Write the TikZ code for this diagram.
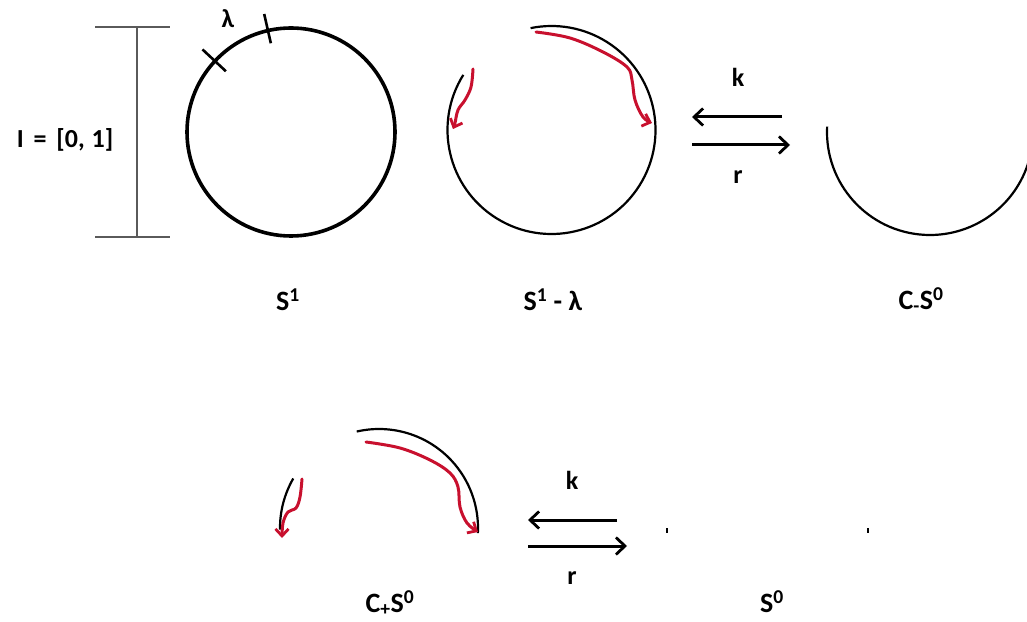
\documentclass[tikz,border=0pt]{standalone}
\usepackage{fontspec}
\setmainfont{Carlito}
\usetikzlibrary{arrows.meta,calc}
\definecolor{arrred}{RGB}{200,16,46}
\definecolor{bargrey}{RGB}{90,90,90}
\tikzset{
  lbl/.style={font=\fontsize{28}{32}\selectfont\bfseries, inner sep=0pt},
  small/.style={font=\fontsize{26}{30}\selectfont\bfseries, inner sep=0pt},
  thickcirc/.style={line width=3.6pt, black},
  thincirc/.style={line width=2.2pt, black},
  redarr/.style={line width=3pt, arrred, line cap=round, line join=round,
    -{Straight Barb[length=7pt,width=13pt,line width=2.8pt]}},
  maparr/.style={line width=3pt, black,
    -{Straight Barb[length=9pt,width=17pt,line width=2.8pt]}},
  bar/.style={line width=1.3pt, bargrey},
}
\begin{document}
\begin{tikzpicture}[x=1pt,y=1pt]
\useasboundingbox (0,0) rectangle (1027,621);
\clip (0,0) rectangle (1027,621);

% ---------- interval I ----------
\coordinate (Itop) at (137,594);
\coordinate (Ibot) at (137,384);
\draw[bar] (Itop) -- (Ibot);
\draw[bar] (95,594) -- (170,594);
\draw[bar] (95,384) -- (170,384);
\node[small] (Ilabel) at (65,481) {I\hspace{4pt} =\hspace{4pt} [0,\hspace{1pt} 1]};

% ---------- S^1 ----------
\coordinate (c1) at (291,489);
\draw[thickcirc] (c1) circle[radius=104];
\draw[line width=2.6pt] ($(c1)+(137:89)$) -- ($(c1)+(137:121)$);
\draw[line width=2.6pt] ($(c1)+(102.8:91)$) -- ($(c1)+(102.8:121)$);
\node[small] (lam) at (228,602) {λ};
\node[lbl] (S1) at (288,321) {S\textsuperscript{1}};

% ---------- S^1 - lambda ----------
\coordinate (c2) at (551.5,491);
\draw[thincirc] ($(c2)+(148:104)$) arc[start angle=148, end angle=461.6, radius=104];
\draw[redarr] plot[smooth, tension=0.6] coordinates
  {(536,589) (570,583) (603,569) (627,554) (632,541) (635,521) (643,504) (652,498)};
\draw[redarr] plot[smooth, tension=0.6] coordinates
  {(473,552) (471,534) (465,521) (458,511) (455,498) (453,492)};
\node[lbl] (S1l) at (553,321) {S\textsuperscript{1} - λ};

% ---------- maps (top) ----------
\coordinate (ka1) at (782,504);
\coordinate (kb1) at (692,504);
\coordinate (ra1) at (692,476);
\coordinate (rb1) at (790,476);
\draw[maparr] (ka1) -- (kb1);
\draw[maparr] (ra1) -- (rb1);
\node[small] (k1) at (738,544) {k};
\node[small] (r1) at (738,444) {r};

% ---------- C_- S^0 ----------
\coordinate (c3) at (930,489);
\draw[thincirc] ($(c3)+(177:103)$) arc[start angle=177, end angle=365, radius=103];
\node[lbl] (CmS0) at (921,321) {C\textsubscript{-}S\textsuperscript{0}};

% ---------- C_+ S^0 ----------
\coordinate (c4) at (379,93);
\draw[thincirc] ($(c4)+(150:99)$) arc[start angle=150, end angle=181, radius=99];
\draw[thincirc] ($(c4)+(103:99)$) arc[start angle=103, end angle=-3, radius=99];
\draw[redarr] plot[smooth, tension=0.6] coordinates
  {(366,179) (400,173) (430,161) (450,148) (458,134) (460,114) (467,98) (478,89)};
\draw[redarr] plot[smooth, tension=0.6] coordinates
  {(302,142) (300,124) (296,113) (288,109) (283,98) (282,83)};
\node[lbl] (CpS0) at (390,18) {C\textsubscript{+}S\textsuperscript{0}};

% ---------- maps (bottom) ----------
\coordinate (ka2) at (617,101);
\coordinate (kb2) at (528,101);
\coordinate (ra2) at (528,75);
\coordinate (rb2) at (627,75);
\draw[maparr] (ka2) -- (kb2);
\draw[maparr] (ra2) -- (rb2);
\node[small] (k2) at (572,141) {k};
\node[small] (r2) at (572,43) {r};

% ---------- S^0 ----------
\coordinate (p1) at (667,91);
\coordinate (p2) at (868,91);
\draw[line width=1.6pt] ($(p1)+(0,-2.5)$) -- ($(p1)+(0,2.5)$);
\draw[line width=1.6pt] ($(p2)+(0,-2.5)$) -- ($(p2)+(0,2.5)$);
\node[lbl] (S0) at (772,19) {S\textsuperscript{0}};
\end{tikzpicture}
\end{document}
